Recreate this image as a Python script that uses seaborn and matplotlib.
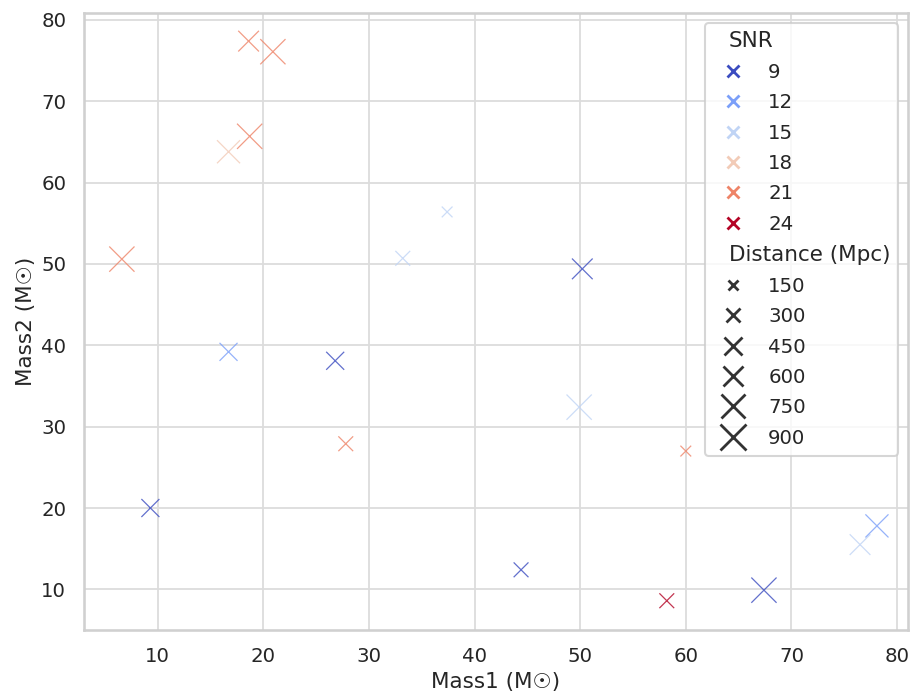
import numpy as np
import pandas as pd
import seaborn as sns
import matplotlib
matplotlib.use("Agg")
import matplotlib.pyplot as plt
from matplotlib.offsetbox import VPacker

# Binary merger catalogue: component masses, signal-to-noise ratio, luminosity distance
mass1 = [6.6, 9.3, 16.7, 16.7, 18.7, 18.6, 20.9, 26.8, 27.8, 33.2,
         37.4, 44.4, 50.2, 49.9, 58.2, 60.0, 67.4, 76.5, 78.1]
mass2 = [50.6, 20.0, 39.2, 63.8, 65.7, 77.4, 76.1, 38.1, 27.9, 50.7,
         56.4, 12.4, 49.4, 32.4, 8.6, 27.0, 9.9, 15.5, 17.8]
snr = [21, 9, 12, 18, 21, 21, 21, 9, 21, 15,
       15, 9, 9, 15, 24, 21, 9, 15, 12]
distance = [900, 450, 450, 750, 900, 600, 900, 450, 300, 300,
            150, 300, 600, 900, 300, 150, 900, 600, 750]

df = pd.DataFrame({
    "Mass1": mass1,
    "Mass2": mass2,
    "SNR": snr,
    "Distance (Mpc)": distance,
})

sns.set_theme(style="whitegrid", context="talk", font_scale=0.86,
              rc={"grid.color": "#dcdcdc", "axes.edgecolor": "#d0d0d0",
                  "grid.linewidth": 1.3, "legend.labelspacing": 0.58})

fig, ax = plt.subplots(figsize=(9.12, 6.98), dpi=100)
fig.subplots_adjust(left=0.0916, right=0.9956, top=0.9807, bottom=0.0974)

sns.scatterplot(
    data=df, x="Mass1", y="Mass2",
    hue="SNR", size="Distance (Mpc)",
    palette="coolwarm", sizes=(60, 330),
    marker="x", linewidth=0.9, alpha=0.8,
    ax=ax,
)

ax.set_xlabel("Mass1 (M☉)")
ax.set_ylabel("Mass2 (M☉)")
ax.set_xticks([10, 20, 30, 40, 50, 60, 70, 80])
ax.set_yticks([10, 20, 30, 40, 50, 60, 70, 80])
ax.set_xlim(2.97, 81.04)
ax.set_ylim(5.0, 80.8)

# Section headings in the legend sit flush left at title size; crosses drawn bolder
headings = {"SNR", "Distance (Mpc)"}
leg = ax.get_legend()
title_size = plt.rcParams["legend.title_fontsize"]
rows = leg.findobj(VPacker)[0].get_children()
for row in rows:
    draw_area, text_area = row.get_children()
    texts = text_area.get_children()
    if any(t.get_text() in headings for t in texts):
        draw_area.set_width(0)
        for t in texts:
            t.set_size(title_size)
for h in leg.legend_handles:
    if hasattr(h, "set_markeredgewidth"):
        h.set_markeredgewidth(2.0)
        h.set_alpha(1.0)

fig.savefig("out.png", dpi=100)
